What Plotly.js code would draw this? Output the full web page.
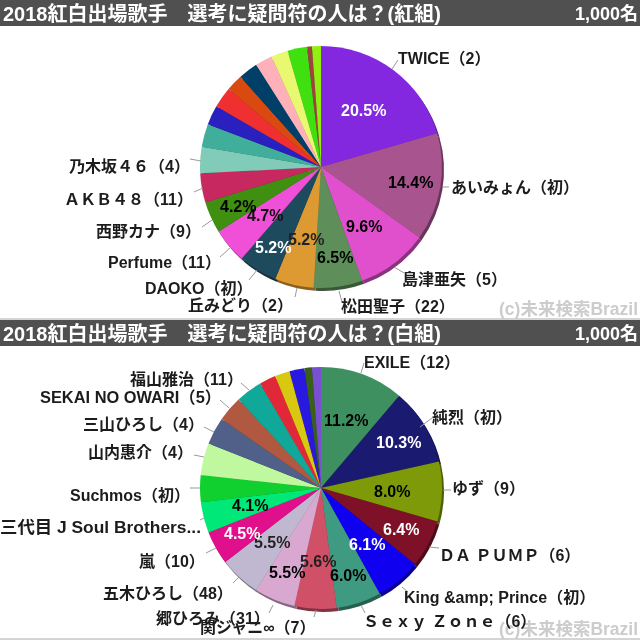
<!DOCTYPE html>
<html><head><meta charset="utf-8">
<script src="https://cdn.plot.ly/plotly-3.0.1.min.js"></script>
<style>html,body{margin:0;padding:0;background:#fff}#c{width:640px;height:640px;filter:blur(0.45px)}</style>
</head><body><div id="c"></div>
<script>
var redNames = ["TWICE（2）","あいみょん（初）","島津亜矢（5）","松田聖子（22）","丘みどり（2）","DAOKO（初）","Perfume（11）","西野カナ（9）","ＡＫＢ４８（11）","乃木坂４６（4）","r11","r12","r13","r14","r15","r16","r17","r18","r19","r20"];
var redValues = [20.5,14.4,9.6,6.5,5.2,5.2,4.7,4.2,3.9,3.5,3.1,2.6,2.8,2.25,2.6,2.3,2.25,2.6,0.65,1.2];
var redColors = ["#8428E0","#A8558F","#E050CC","#5E8E5A","#DE9A32","#1E4A5E","#F050D8","#3F8F10","#C82860","#80CCB8","#40AE9A","#2A20C0","#F03030","#D84A10","#004068","#FFB0B8","#E8F870","#40E010","#A04040","#90F010"];
var whiteNames = ["EXILE（12）","純烈（初）","ゆず（9）","ＤＡ ＰＵＭＰ（6）","King &amp;amp; Prince（初）","Ｓｅｘｙ Ｚｏｎｅ（6）","関ジャニ∞（7）","郷ひろみ（31）","五木ひろし（48）","嵐（10）","三代目 J Soul Brothers...","Suchmos（初）","w13","山内惠介（4）","三山ひろし（4）","SEKAI NO OWARI（5）","福山雅治（11）","w18","w19","w20","w21"];
var whiteValues = [11.2,10.3,8.0,6.4,6.1,6.0,5.6,5.5,5.5,4.5,4.1,3.6,4.3,3.67,3.4,3.55,2.2,2.0,2.0,1.0,1.2];
var whiteColors = ["#3E9060","#1A1A70","#7E9A08","#7E1028","#1000F0","#3E9A80","#D05068","#D8A8D0","#C0B8D0","#E0108C","#00E878","#10D030","#C0F8A0","#506088","#B05840","#10A898","#E02838","#D8C810","#2818E0","#386018","#7850D0"];
var titleRed = "2018紅白出場歌手　選考に疑問符の人は？(紅組)";
var titleWhite = "2018紅白出場歌手　選考に疑問符の人は？(白組)";
var sampleLabel = "1,000名";
var creditLabel = "(c)未来検索Brazil";

var redTextPos = [[398,59,"left"],[451,187,"left"],[402,279,"left"],[341,306,"left"],[293,305,"right"],[253,288,"right"],[221,262,"right"],[201,231,"right"],[193,199,"right"],[190,166,"right"]];
var whiteTextPos = {0:[364,362,"left"],1:[432,417,"left"],2:[452,488,"left"],3:[439,555,"left"],4:[404,597,"left"],5:[363,622,"left"],6:[316,627,"right"],7:[270,618,"right"],8:[233,593,"right"],9:[205,561,"right"],10:[201,527,"right",17.4],11:[190,495,"right"],13:[193,452,"right"],14:[204,424,"right"],15:[221,397,"right",16.4],16:[243,379,"right"]};
var redPctPos = [[363,110,"#fff"],[410,182,"#000"],[364,226,"#000"],[335,257,"#000"],[306,239,"#222"],[273,247,"#fff"],[265,215,"#111"],[238,206,"#000"]];
var whitePctPos = [[346,420,"#000"],[398,442,"#fff"],[392,491,"#000"],[401,529,"#fff"],[367,544,"#fff"],[348,575,"#000"],[318,561,"#222"],[287,572,"#000"],[272,542,"#222"],[242,533,"#fff"],[250,505,"#000"]];
var leaders = [[398,60,392,69],[449,187,443,187],[404,273,394,267],[342,302,339,291],[295,297,297,288],[249,280,257,270],[220,257,231,247],[202,227,212,220],[194,192,203,188],[190,159,201,161],
[364,363,361,373],[432,418,420,427],[451,490,443,490],[439,548,429,547],[408,592,402,587],[365,613,361,605],[314,617,316,610],[269,613,273,605],[233,583,239,577],[206,553,216,548],[200,520,206,517],[190,488,200,488],[194,455,204,457],[204,427,214,432],[220,400,229,408],[241,383,249,390]];

var W=640,H=640,R=121;
function px(x){return x/W} function py(y){return 1-y/H}
function dark(c){var n=parseInt(c.slice(1),16);var f=.62;
  return "rgb("+Math.round((n>>16&255)*f)+","+Math.round((n>>8&255)*f)+","+Math.round((n&255)*f)+")";}
function pie(vals,names,cols,cx,cy){
  return {type:"pie",values:vals,labels:names,sort:false,direction:"clockwise",rotation:0,textinfo:"none",hoverinfo:"skip",
    marker:{colors:cols,line:{width:0}},
    domain:{x:[px(cx-R),px(cx+R)],y:[py(cy+R),py(cy-R)]}};
}
var traces=[
  pie(redValues,redNames,redColors.map(dark),323,170),
  pie(whiteValues,whiteNames,whiteColors.map(dark),323,491),
  pie(redValues,redNames,redColors,321,167),
  pie(whiteValues,whiteNames,whiteColors,321,488)
];
var FF='"Liberation Sans","Noto Sans CJK JP",sans-serif';
var ann=[];
function t(text,x,y,anchor,size,color,weight){
  ann.push({text:text,x:px(x),y:py(y),xref:"paper",yref:"paper",xanchor:anchor,yanchor:"middle",showarrow:false,
    font:{family:FF,size:size,color:color,weight:weight},borderpad:0,borderwidth:0});
}
t(creditLabel,638,309,"right",17.5,"#cccccc",700);
t(creditLabel,638,629,"right",17.5,"#cccccc",700);
t(titleRed,3,14,"left",20,"#fff",700); t(sampleLabel,638,14,"right",18,"#fff",700);
t(titleWhite,3,334,"left",20,"#fff",700); t(sampleLabel,638,334,"right",18,"#fff",700);
redTextPos.forEach(function(p,i){t(redNames[i],p[0],p[1],p[2],16,"#1c1c1c",700)});
Object.keys(whiteTextPos).forEach(function(k){var p=whiteTextPos[k];t(whiteNames[k],p[0],p[1],p[2],p[3]||16,"#1c1c1c",700)});
redPctPos.forEach(function(p,i){t(redValues[i].toFixed(1)+"%",p[0],p[1],"center",16,p[2],700)});
whitePctPos.forEach(function(p,i){t(whiteValues[i].toFixed(1)+"%",p[0],p[1],"center",16,p[2],700)});

var shapes=[
 {type:"rect",xref:"paper",yref:"paper",x0:0,x1:1,y0:py(26),y1:py(0),fillcolor:"#505050",line:{width:0},layer:"below"},
 {type:"rect",xref:"paper",yref:"paper",x0:0,x1:1,y0:py(346),y1:py(320),fillcolor:"#505050",line:{width:0},layer:"below"},
 {type:"line",xref:"paper",yref:"paper",x0:0,x1:1,y0:py(319),y1:py(319),line:{color:"#aaa",width:1},layer:"below"},
 {type:"line",xref:"paper",yref:"paper",x0:0,x1:1,y0:py(639),y1:py(639),line:{color:"#aaa",width:1},layer:"below"}
];
leaders.forEach(function(l){shapes.push({type:"line",xref:"paper",yref:"paper",x0:px(l[0]),y0:py(l[1]),x1:px(l[2]),y1:py(l[3]),line:{color:"#999",width:1},layer:"above"})});
Plotly.newPlot("c",traces,{width:W,height:H,margin:{l:0,r:0,t:0,b:0},showlegend:false,paper_bgcolor:"#fff",plot_bgcolor:"#fff",annotations:ann,shapes:shapes},{displayModeBar:false,staticPlot:true});
</script></body></html>
